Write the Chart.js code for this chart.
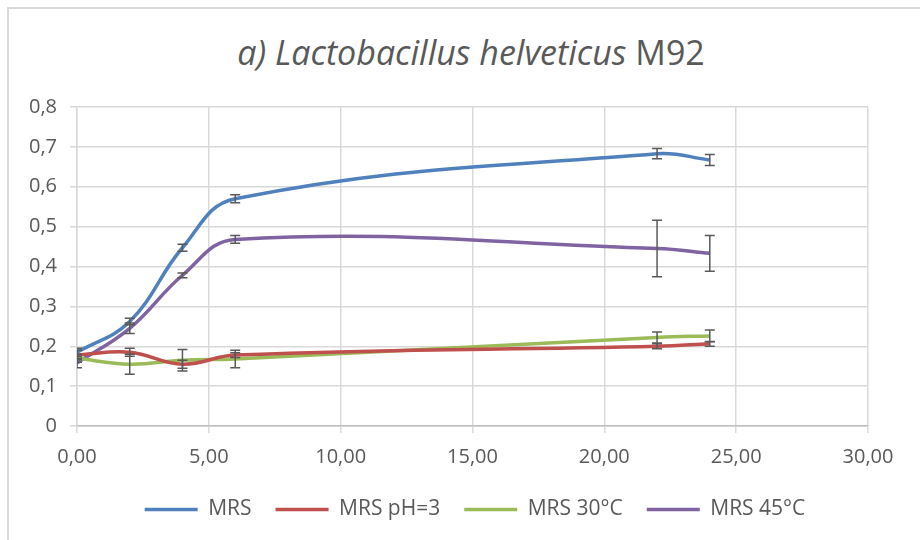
<!DOCTYPE html>
<html>
<head>
<meta charset="utf-8">
<script src="https://cdn.jsdelivr.net/npm/chart.js@4"></script>
<style>
  body { margin: 0; background: #fff; }
  #wrap { position: relative; width: 920px; height: 540px; overflow: hidden; }
  #frame { position: absolute; left: 7px; top: 7px; width: 1000px; height: 1000px;
           border-left: 2px solid #d9d9d9; border-top: 2px solid #d9d9d9; }
  #title { position: absolute; left: 0; width: 942px; top: 30px; text-align: center;
           font-family: "Open Sans", sans-serif; font-size: 34px; color: #595959; line-height: 44px; }
  canvas { position: absolute; left: 0; top: 0; }
</style>
</head>
<body>
<div id="wrap">
  <div id="frame"></div>
  <div id="title"><i>a) Lactobacillus helveticus</i> M92</div>
  <canvas id="Chart" width="920" height="540"></canvas>
</div>
<script>
// time points (h)
const hours = [0, 2, 4, 6, 22, 24];

const seriesNames = ['MRS', 'MRS pH=3', 'MRS 30°C', 'MRS 45°C'];

const mrs      = [0.185, 0.262, 0.447, 0.570, 0.683, 0.667];
const mrsErr   = [0.010, 0.008, 0.009, 0.010, 0.013, 0.014];
const ph3      = [0.178, 0.185, 0.155, 0.178, 0.200, 0.206];
const ph3Err   = [0.012, 0.010, 0.010, 0.006, 0.006, 0.006];
const t30      = [0.170, 0.155, 0.165, 0.168, 0.222, 0.226];
const t30Err   = [0.010, 0.025, 0.027, 0.022, 0.014, 0.015];
const t45      = [0.158, 0.245, 0.378, 0.468, 0.445, 0.433];
const t45Err   = [0.012, 0.013, 0.006, 0.010, 0.071, 0.045];

const xTickLabels = ['0,00', '5,00', '10,00', '15,00', '20,00', '25,00', '30,00'];
const yTickLabels = ['0', '0,1', '0,2', '0,3', '0,4', '0,5', '0,6', '0,7', '0,8'];

const colors = ['#4F81BD', '#C0504D', '#9BBB59', '#8064A2'];
const values = [mrs, ph3, t30, t45];
const errors = [mrsErr, ph3Err, t30Err, t45Err];

const errorBars = {
    id: 'errorBars',
    afterDatasetsDraw(chart) {
        const { ctx, chartArea, scales: { x, y } } = chart;
        ctx.save();
        ctx.beginPath();
        ctx.rect(chartArea.left, chartArea.top, chartArea.right - chartArea.left, chartArea.bottom - chartArea.top);
        ctx.clip();
        ctx.strokeStyle = '#595959';
        ctx.lineWidth = 1.5;
        values.forEach((vals, s) => {
            vals.forEach((v, i) => {
                const px = x.getPixelForValue(hours[i]);
                const top = y.getPixelForValue(v + errors[s][i]);
                const bot = y.getPixelForValue(v - errors[s][i]);
                ctx.beginPath();
                ctx.moveTo(px, top); ctx.lineTo(px, bot);
                ctx.moveTo(px - 5, top); ctx.lineTo(px + 5, top);
                ctx.moveTo(px - 5, bot); ctx.lineTo(px + 5, bot);
                ctx.stroke();
            });
        });
        ctx.restore();
    }
};

// legend in the original sits centred on the whole frame, not the plot
const legendShift = {
    id: 'legendShift',
    afterLayout(chart) {
        chart.legend.left += 41;
        chart.legend.right += 41;
    }
};

const ctx = document.getElementById('Chart');

new Chart(ctx, {
    type: 'line',
    data: {
        datasets: values.map((vals, s) => ({
            label: seriesNames[s],
            data: vals.map((v, i) => ({ x: hours[i], y: v })),
            borderColor: colors[s],
            backgroundColor: colors[s],
            borderWidth: 3.5,
            pointRadius: 0,
            tension: 0.4,
            fill: false
        }))
    },
    options: {
        responsive: false,
        animation: false,
        layout: { padding: { top: 107, right: 52, bottom: 10, left: 0 } },
        plugins: {
            legend: {
                position: 'bottom',
                labels: {
                    usePointStyle: true,
                    pointStyle: 'line',
                    pointStyleWidth: 53,
                    padding: 24,
                    color: '#595959',
                    font: { family: 'Open Sans', size: 21 }
                }
            },
            tooltip: { enabled: false }
        },
        scales: {
            x: {
                type: 'linear',
                min: 0,
                max: 30,
                ticks: {
                    stepSize: 5,
                    padding: 12,
                    color: '#595959',
                    font: { family: 'Open Sans', size: 20 },
                    callback: (v) => xTickLabels[Math.round(v / 5)]
                },
                grid: { color: '#d9d9d9', lineWidth: 1.5, tickLength: 7 },
                border: { color: '#bfbfbf', width: 1.5 },
                afterFit: (scale) => { scale.height = 49; }
            },
            y: {
                min: 0,
                max: 0.8,
                ticks: {
                    stepSize: 0.1,
                    padding: 13,
                    color: '#595959',
                    font: { family: 'Open Sans', size: 20 },
                    callback: (v) => yTickLabels[Math.round(v * 10)]
                },
                grid: { color: '#d9d9d9', lineWidth: 1.5, tickLength: 7 },
                border: { color: '#d9d9d9', width: 1.5 },
                afterFit: (scale) => { scale.width = 77; }
            }
        }
    },
    plugins: [errorBars, legendShift]
});
</script>
</body>
</html>
